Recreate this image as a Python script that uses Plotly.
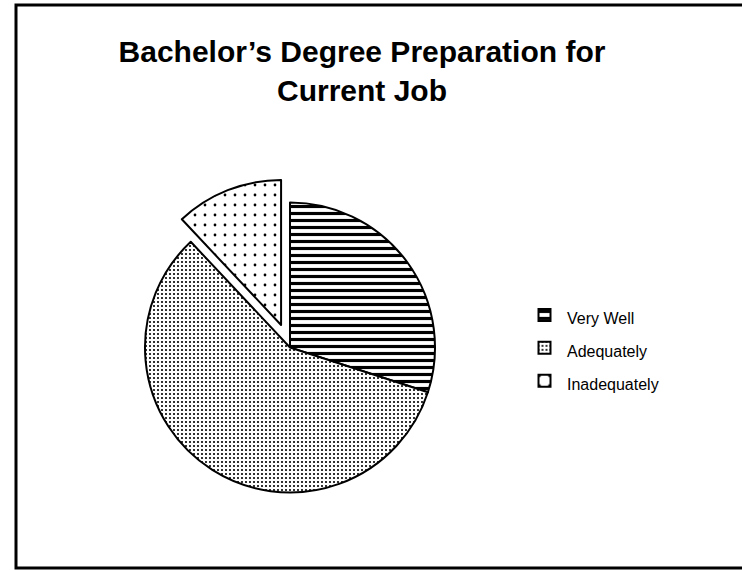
import plotly.graph_objects as go

categories = ["Very Well", "Adequately", "Inadequately"]
values = [30, 58, 12]
pulls = [0, 0, 0.167]
pattern_shapes = ["-", ".", "."]
pattern_sizes = [7, 4, 10]
pattern_solidity = [0.45, 0.22, 0.06]

W, H = 742, 570
cx, cy, r = 290, 347.5, 145
half = r * (1 + max(pulls))

legend_labels = ["<span style='font-size:16px'>%s</span>" % c for c in categories]

fig = go.Figure(go.Pie(
    labels=legend_labels,
    values=values,
    sort=False,
    direction="clockwise",
    rotation=0,
    pull=pulls,
    textinfo="none",
    hoverinfo="label+percent",
    marker=dict(
        colors=["white", "white", "white"],
        line=dict(color="black", width=2),
        pattern=dict(
            shape=pattern_shapes,
            size=pattern_sizes,
            solidity=pattern_solidity,
            fgcolor="black",
            bgcolor="white",
            fgopacity=1,
            fillmode="replace",
        ),
    ),
    domain=dict(
        x=[(cx - half) / W, (cx + half) / W],
        y=[(H - cy - half) / H, (H - cy + half) / H],
    ),
))

fig.update_layout(
    width=W,
    height=H,
    margin=dict(l=0, r=0, t=0, b=0),
    paper_bgcolor="white",
    plot_bgcolor="white",
    font=dict(family="Liberation Sans, Arial, sans-serif", color="black"),
    title=dict(
        text="<b>Bachelor’s Degree Preparation for<br>Current Job</b>",
        x=362 / W,
        xanchor="center",
        y=1 - 62 / H,
        yanchor="top",
        yref="container",
        font=dict(size=30, family="Liberation Sans, Arial, sans-serif", color="black"),
    ),
    showlegend=True,
    legend=dict(
        x=522 / W,
        xanchor="left",
        y=(H - 348) / H,
        yanchor="middle",
        font=dict(size=23, family="Liberation Sans, Arial, sans-serif", color="black"),
        itemwidth=35,
        bgcolor="rgba(0,0,0,0)",
    ),
    shapes=[
        dict(
            type="rect",
            xref="paper", yref="paper",
            x0=16 / W, x1=1.05,
            y0=(H - 568) / H, y1=(H - 5) / H,
            line=dict(color="black", width=3),
            fillcolor="rgba(0,0,0,0)",
            layer="above",
        )
    ],
)

fig.write_html(
    "out.html",
    config={"displayModeBar": False},
    post_script="document.body.style.margin='0';",
)
